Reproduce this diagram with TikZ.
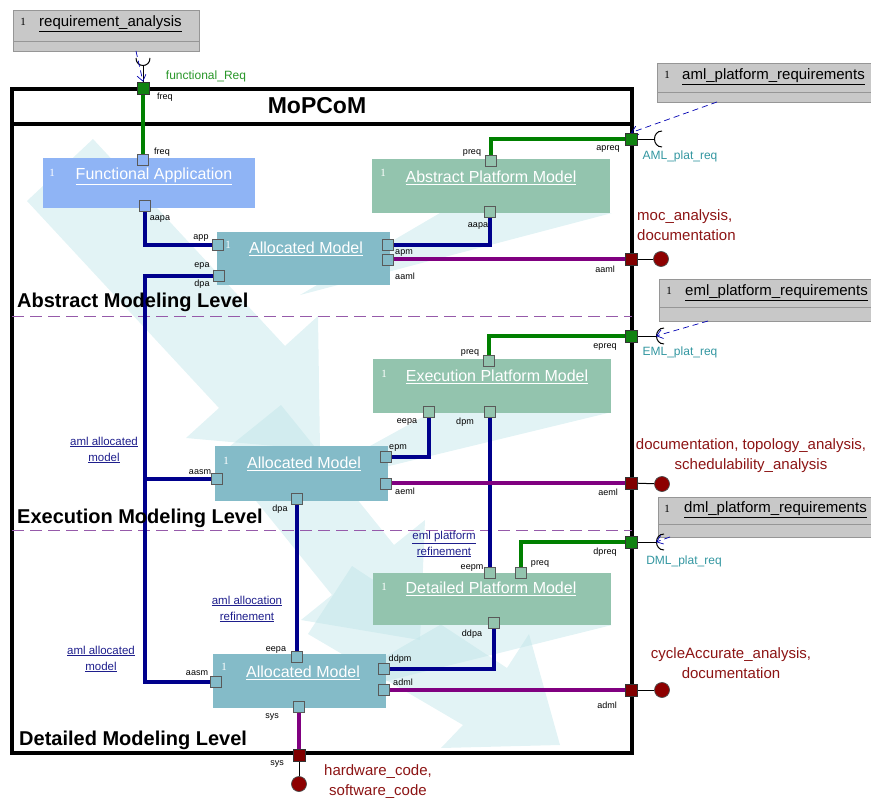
\documentclass[tikz,border=0pt]{standalone}
\usepackage{fontspec}
\setmainfont{Liberation Sans}
\newfontfamily\serifnum{Liberation Serif}
\usetikzlibrary{arrows.meta}

\definecolor{fablue}{RGB}{143,180,245}
\definecolor{alteal}{RGB}{132,187,200}
\definecolor{plgreen}{RGB}{147,196,174}
\definecolor{reqgray}{RGB}{200,200,200}
\definecolor{reqedge}{RGB}{150,150,150}
\definecolor{portgreen}{RGB}{16,130,16}
\definecolor{portred}{RGB}{128,0,0}
\definecolor{wiregreen}{RGB}{0,128,0}
\definecolor{wireblue}{RGB}{0,0,140}
\definecolor{wirepurple}{RGB}{128,0,128}
\definecolor{outred}{RGB}{140,20,20}
\definecolor{reqteal}{RGB}{50,150,160}
\definecolor{reqgreen}{RGB}{40,150,40}
\definecolor{refblue}{RGB}{30,30,140}
\definecolor{sepviolet}{RGB}{150,90,170}
\definecolor{flowcyan}{RGB}{190,228,232}

\pgfdeclarelayer{flow}
\pgfdeclarelayer{wires}
\pgfsetlayers{flow,wires,main}

\tikzset{
  mopframe/.style={draw=black, line width=4pt, inner sep=0pt, outer sep=0pt, anchor=north west},
  blk/.style={fill=#1, inner sep=0pt, outer sep=0pt, anchor=north west},
  reqblk/.style={draw=reqedge, fill=reqgray, line width=0.8pt, inner sep=0pt, outer sep=0pt, anchor=north west},
  bport/.style={draw=black!65, fill=#1, minimum size=11pt, inner sep=0pt, line width=0.7pt},
  fport/.style={draw=black!80, fill=#1, minimum size=12pt, inner sep=0pt, line width=0.7pt},
  endball/.style={circle, draw=black!70, fill=portred!90!red, minimum size=15pt, inner sep=0pt, line width=0.7pt},
  wire/.style={line width=3.6pt, draw=#1},
  stub/.style={line width=1pt, draw=black},
  reqline/.style={draw=blue!70!black, dash pattern=on 6pt off 4pt, line width=0.7pt, -{Straight Barb[length=6pt,width=9pt]}},
  levelsep/.style={draw=sepviolet, dash pattern=on 12pt off 6pt, line width=0.8pt},
  flowarrow/.style={fill=flowcyan, fill opacity=0.45},
  plbl/.style={font=\fontsize{9}{10}\selectfont, inner sep=0pt},
  ttl/.style={font=\fontsize{16}{18}\selectfont, text=white, inner sep=0pt},
  numtxt/.style={font=\serifnum\fontsize{11}{12}\selectfont, text=#1, inner sep=0pt},
  hdr/.style={font=\fontsize{15}{17}\selectfont, anchor=west, inner sep=0pt},
  lvl/.style={font=\bfseries\fontsize{20}{22}\selectfont, anchor=west, inner sep=0pt},
  outtxt/.style={text=outred, font=\fontsize{15}{20}\selectfont, inner sep=0pt},
  reftxt/.style={text=refblue, font=\fontsize{11.5}{16}\selectfont, align=center, inner sep=0pt},
  iftxt/.style={font=\fontsize{12}{14}\selectfont, inner sep=0pt, text=#1}
}

\begin{document}
\begin{tikzpicture}[x=1pt, y=-1pt]
\useasboundingbox (0,0) rectangle (871,800);

\begin{pgfonlayer}{flow}
  % flow of refinement in the background
  \begin{scope}
    \clip (14,126) rectangle (630,751);
    \fill[flowarrow] (93,139) -- (285,346) -- (318,316) -- (320,450) -- (186,438) -- (219,408) -- (27,201) -- cycle;
    \fill[flowarrow] (281,405) -- (394,545) -- (425,520) -- (420,640) -- (301,620) -- (332,595) -- (219,455) -- cycle;
    \fill[flowarrow] (352,566) -- (507,668) -- (529,634) -- (560,745) -- (441,748) -- (463,725) -- (308,634) -- cycle;
    \fill[flowarrow] (612,213) -- (440,213) -- (300,295) -- cycle;
    \fill[flowarrow] (612,412) -- (430,413) -- (290,490) -- cycle;
    \fill[flowarrow] (612,625) -- (440,625) -- (310,700) -- cycle;
  \end{scope}

  % MoPCoM frame
  \node[mopframe, minimum width=620pt, minimum height=664pt] (mop) at (12,89) {};
  \draw[line width=4pt] (12,124) -- (632,124);
  \draw[levelsep] (12,316) -- (632,316);
  \draw[levelsep] (12,530) -- (632,530);

  % requirement boxes
  \node[reqblk, minimum width=186pt, minimum height=41pt] (req) at (13,10) {};
  \draw[reqedge, line width=0.8pt] (13,41) -- (199,41);
  \node[reqblk, minimum width=230pt, minimum height=39pt] (aml) at (657,63) {};
  \draw[reqedge, line width=0.8pt] (657,92) -- (871,92);
  \node[reqblk, minimum width=230pt, minimum height=42pt] (eml) at (659,279) {};
  \draw[reqedge, line width=0.8pt] (659,307) -- (871,307);
  \node[reqblk, minimum width=230pt, minimum height=40pt] (dml) at (658,497) {};
  \draw[reqedge, line width=0.8pt] (658,524) -- (871,524);

  % model blocks
  \node[blk=fablue, minimum width=212pt, minimum height=50pt] (fa) at (43,158) {};
  \node[blk=alteal, minimum width=173pt, minimum height=53pt] (am1) at (217,232) {};
  \node[blk=plgreen, minimum width=238pt, minimum height=54pt] (apm) at (372,159) {};
  \node[blk=plgreen, minimum width=238pt, minimum height=54pt] (epm) at (373,359) {};
  \node[blk=alteal, minimum width=173pt, minimum height=55pt] (am2) at (215,446) {};
  \node[blk=plgreen, minimum width=238pt, minimum height=52pt] (dpm) at (373,573) {};
  \node[blk=alteal, minimum width=173pt, minimum height=54pt] (am3) at (213,654) {};
\end{pgfonlayer}

% titles
\node[font=\bfseries\fontsize{23}{26}\selectfont] (mop-t) at (317,106) {MoPCoM};
\node[numtxt=black] (req-1) at (23,22) {1};
\node[hdr] (req-t) at (39,24) {\underline{requirement\_analysis}};
\node[numtxt=black] (aml-1) at (667,75) {1};
\node[hdr] (aml-t) at (682,77) {\underline{aml\_platform\_requirements}};
\node[numtxt=black] (eml-1) at (669,291) {1};
\node[hdr] (eml-t) at (685,293) {\underline{eml\_platform\_requirements}};
\node[numtxt=black] (dml-1) at (667,509) {1};
\node[hdr] (dml-t) at (684,510) {\underline{dml\_platform\_requirements}};

\node[numtxt=white] (fa-1) at (52,173) {1};
\node[ttl] (fa-t) at (154,176) {\underline{Functional Application}};
\node[numtxt=white] (am1-1) at (228,245) {1};
\node[ttl] (am1-t) at (306,249) {\underline{Allocated Model}};
\node[numtxt=white] (apm-1) at (383,173) {1};
\node[ttl] (apm-t) at (491,178) {\underline{Abstract Platform Model}};
\node[numtxt=white] (epm-1) at (384,374) {1};
\node[ttl] (epm-t) at (497,377) {\underline{Execution Platform Model}};
\node[numtxt=white] (am2-1) at (226,461) {1};
\node[ttl] (am2-t) at (304,464) {\underline{Allocated Model}};
\node[numtxt=white] (dpm-1) at (384,587) {1};
\node[ttl] (dpm-t) at (491,589) {\underline{Detailed Platform Model}};
\node[numtxt=white] (am3-1) at (224,667) {1};
\node[ttl] (am3-t) at (303,673) {\underline{Allocated Model}};

\node[lvl] (lv-a) at (17,302) {Abstract Modeling Level};
\node[lvl] (lv-e) at (17,518) {Execution Modeling Level};
\node[lvl] (lv-d) at (19,740) {Detailed Modeling Level};

% frame ports
\node[fport=portgreen] (freqo) at (143,88) {};
\node[fport=portgreen] (apreq) at (631,139) {};
\node[fport=portred] (aamlo) at (631,259) {};
\node[fport=portgreen] (epreq) at (631,336) {};
\node[fport=portred] (aemlo) at (631,483) {};
\node[fport=portgreen] (dpreq) at (631,542) {};
\node[fport=portred] (admlo) at (631,690) {};
\node[fport=portred] (syso) at (299,755) {};

% block ports
\node[bport=fablue] (fa-freq) at (143,160) {};
\node[bport=fablue] (fa-aapa) at (145,206) {};
\node[bport=alteal] (am1-app) at (218,245) {};
\node[bport=alteal] (am1-epa) at (219,276) {};
\node[bport=alteal] (am1-apm) at (388,245) {};
\node[bport=alteal] (am1-aaml) at (388,260) {};
\node[bport=plgreen] (apm-preq) at (491,161) {};
\node[bport=plgreen] (apm-aapa) at (490,212) {};
\node[bport=plgreen] (epm-preq) at (489,361) {};
\node[bport=plgreen] (epm-eepa) at (429,412) {};
\node[bport=plgreen] (epm-dpm) at (490,412) {};
\node[bport=alteal] (am2-epm) at (386,457) {};
\node[bport=alteal] (am2-aeml) at (386,484) {};
\node[bport=alteal] (am2-aasm) at (217,479) {};
\node[bport=alteal] (am2-dpa) at (297,499) {};
\node[bport=plgreen] (dpm-eepm) at (490,573) {};
\node[bport=plgreen] (dpm-preq) at (521,573) {};
\node[bport=plgreen] (dpm-ddpa) at (494,623) {};
\node[bport=alteal] (am3-eepa) at (297,657) {};
\node[bport=alteal] (am3-aasm) at (216,682) {};
\node[bport=alteal] (am3-ddpm) at (384,669) {};
\node[bport=alteal] (am3-adml) at (384,690) {};
\node[bport=alteal] (am3-sys) at (299,707) {};

% provided and required interfaces
\node[endball] (b-aaml) at (661,259) {};
\node[endball] (b-aeml) at (662,484) {};
\node[endball] (b-adml) at (662,690) {};
\node[endball] (b-sys) at (299,784) {};
\coordinate (freqsock) at (143,66);
\coordinate (amlsock) at (654,139);
\coordinate (emlsock) at (656,336);
\coordinate (dmlsock) at (656,542);

\begin{pgfonlayer}{wires}
  \draw[wire=wiregreen] (freqo) -- (fa-freq);
  \draw[wire=wiregreen] (apm-preq) |- (apreq);
  \draw[wire=wiregreen] (epm-preq) |- (epreq);
  \draw[wire=wiregreen] (dpm-preq) |- (dpreq);
  \draw[wire=wireblue] (fa-aapa) |- (am1-app);
  \draw[wire=wireblue] (apm-aapa) |- (am1-apm);
  \draw[wire=wireblue] (am1-epa) -| (145,682) -- (am3-aasm);
  \draw[wire=wireblue] (145,479) -- (am2-aasm);
  \draw[wire=wireblue] (epm-eepa) |- (am2-epm);
  \draw[wire=wireblue] (epm-dpm) -- (dpm-eepm);
  \draw[wire=wireblue] (am2-dpa) -- (am3-eepa);
  \draw[wire=wireblue] (dpm-ddpa) |- (am3-ddpm);
  \draw[wire=wirepurple] (am1-aaml.center |- aamlo) -- (aamlo);
  \draw[wire=wirepurple] (am2-aeml.center |- aemlo) -- (aemlo);
  \draw[wire=wirepurple] (am3-adml) -- (admlo);
  \draw[wire=wirepurple] (am3-sys) -- (syso);
  \draw[stub] (aamlo) -- (b-aaml);
  \draw[stub] (aemlo) -- (b-aeml);
  \draw[stub] (admlo) -- (b-adml);
  \draw[stub] (syso) -- (b-sys);
  \draw[stub] (freqo) -- (freqsock);
  \draw[stub] ([shift={(-7,-8)}]freqsock) .. controls ([shift={(-7,2)}]freqsock) and ([shift={(7,2)}]freqsock) .. ([shift={(7,-8)}]freqsock);
  \draw[stub] (apreq) -- (amlsock);
  \draw[stub] ([shift={(8,-8)}]amlsock) .. controls ([shift={(-2,-8)}]amlsock) and ([shift={(-2,8)}]amlsock) .. ([shift={(8,8)}]amlsock);
  \draw[stub] (epreq) -- (emlsock);
  \draw[stub] ([shift={(8,-8)}]emlsock) .. controls ([shift={(-2,-8)}]emlsock) and ([shift={(-2,8)}]emlsock) .. ([shift={(8,8)}]emlsock);
  \draw[stub] (dpreq) -- (dmlsock);
  \draw[stub] ([shift={(8,-8)}]dmlsock) .. controls ([shift={(-2,-8)}]dmlsock) and ([shift={(-2,8)}]dmlsock) .. ([shift={(8,8)}]dmlsock);
  % dependencies on the requirements
  \draw[reqline] ([xshift=30pt]req.south) -- (freqo.north);
  \draw[reqline] ([xshift=60pt]aml.south west) -- (apreq.north);
  \draw[reqline] ([xshift=49pt]eml.south west) -- (emlsock);
  \draw[reqline] ([xshift=12pt]dml.south west) -- (dmlsock);
\end{pgfonlayer}

% port labels
\node[plbl] (l-freqo) at (165,97) {freq};
\node[iftxt=reqgreen] (l-freqreq) at (206,76) {functional\_Req};
\node[plbl] (l-fafreq) at (162,152) {freq};
\node[plbl] (l-faaapa) at (160,219) {aapa};
\node[plbl] (l-app) at (201,238) {app};
\node[plbl] (l-epa) at (202,266) {epa};
\node[plbl] (l-dpa1) at (202,284) {dpa};
\node[plbl] (l-apm) at (404,253) {apm};
\node[plbl] (l-aaml1) at (405,276) {aaml};
\node[plbl] (l-preq1) at (472,153) {preq};
\node[plbl] (l-aapa2) at (478,226) {aapa};
\node[plbl] (l-apreq) at (608,149) {apreq};
\node[plbl] (l-aaml2) at (605,269) {aaml};
\node[iftxt=reqteal] (l-amlreq) at (680,156) {AML\_plat\_req};
\node[plbl] (l-preq2) at (470,353) {preq};
\node[plbl] (l-epreq) at (605,347) {epreq};
\node[iftxt=reqteal] (l-emlreq) at (680,352) {EML\_plat\_req};
\node[plbl] (l-eepa1) at (407,422) {eepa};
\node[plbl] (l-dpm) at (465,422) {dpm};
\node[plbl] (l-epm) at (398,448) {epm};
\node[plbl] (l-aeml1) at (405,491) {aeml};
\node[plbl] (l-aeml2) at (608,492) {aeml};
\node[plbl] (l-aasm1) at (200,472) {aasm};
\node[plbl] (l-dpa2) at (280,509) {dpa};
\node[plbl] (l-eepm) at (472,568) {eepm};
\node[plbl] (l-preq3) at (540,564) {preq};
\node[plbl] (l-dpreq) at (605,552) {dpreq};
\node[iftxt=reqteal] (l-dmlreq) at (684,561) {DML\_plat\_req};
\node[plbl] (l-ddpa) at (472,634) {ddpa};
\node[plbl] (l-eepa2) at (276,650) {eepa};
\node[plbl] (l-aasm2) at (197,673) {aasm};
\node[plbl] (l-ddpm) at (400,659) {ddpm};
\node[plbl] (l-adml1) at (403,682) {adml};
\node[plbl] (l-adml2) at (607,705) {adml};
\node[plbl] (l-sys1) at (272,717) {sys};
\node[plbl] (l-sys2) at (277,764) {sys};

% analyses and refinements
\node[outtxt, anchor=west, align=left] (out-aml) at (637,225) {moc\_analysis,\\documentation};
\node[outtxt, align=center] (out-eml) at (751,456) {documentation, topology\_analysis,\\schedulability\_analysis};
\node[outtxt, align=center] (out-dml) at (731,663) {cycleAccurate\_analysis,\\documentation};
\node[outtxt, align=center] (out-sys) at (378,782) {hardware\_code,\\software\_code};
\node[reftxt] (r-aml1) at (104,450) {\underline{aml allocated}\\\underline{model}};
\node[reftxt] (r-aml2) at (101,659) {\underline{aml allocated}\\\underline{model}};
\node[reftxt] (r-alloc) at (247,609) {\underline{aml allocation}\\\underline{refinement}};
\node[reftxt] (r-eml) at (444,544) {\underline{eml platform}\\\underline{refinement}};
\end{tikzpicture}
\end{document}
